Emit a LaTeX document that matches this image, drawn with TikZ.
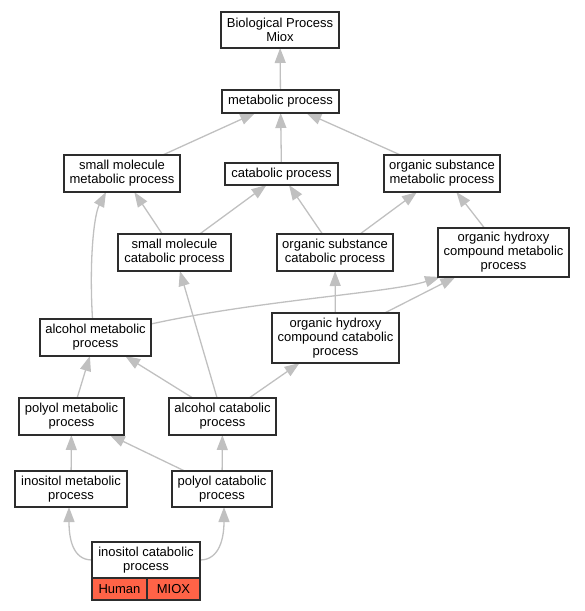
\documentclass[tikz,border=0pt]{standalone}
\usepackage{fontspec}
\setmainfont{Liberation Sans}
\usetikzlibrary{positioning,arrows.meta,backgrounds}
\definecolor{edgegray}{RGB}{192,192,192}
\definecolor{boxline}{RGB}{45,45,45}
\definecolor{genered}{RGB}{255,99,71}
\tikzset{
  term/.style={draw=boxline, line width=1.4pt, fill=white, align=center,
    inner sep=0pt, outer sep=0pt, font=\fontsize{13}{14}\selectfont},
  sz/.style 2 args={minimum width=#1pt, minimum height=#2pt},
  isa/.style={draw=edgegray, line width=1.3pt, -{Triangle[length=15pt,width=11pt]}},
}
\begin{document}
\begin{tikzpicture}[x=1pt, y=-1pt]
      \useasboundingbox (0,0) rectangle (585,611);

      % Define the nodes of the upper levels
      \node[term, sz={118}{36}] (bio) at (280,30) {Biological Process\\Miox};
      \node[term, sz={117}{23}] (met) at (280.5,101.5) {metabolic process};
      \node[term, sz={116}{37}] (smm) at (122,173.5) {small molecule\\metabolic process};
      \node[term, sz={113}{22}] (cat) at (281.5,174) {catabolic process};
      \node[term, sz={116}{37}] (osm) at (442,173.5) {organic substance\\metabolic process};

      % Define the nodes of the middle levels
      \node[term, sz={113}{37}] (smc) at (174.5,252.5) {small molecule\\catabolic process};
      \node[term, sz={116}{37}] (osc) at (335,252.5) {organic substance\\catabolic process};
      \node[term, sz={131}{49}] (ohcm) at (503.5,252.5) {organic hydroxy\\compound metabolic\\process};
      \node[term, sz={111}{37}] (alm) at (95.5,337.5) {alcohol metabolic\\process};
      \node[term, sz={127}{50}] (ohcc) at (335.5,338) {organic hydroxy\\compound catabolic\\process};

      % Define the nodes of the lower levels
      \node[term, sz={105}{37}] (pom) at (71.5,416.5) {polyol metabolic\\process};
      \node[term, sz={107}{37}] (alc) at (222.5,416.5) {alcohol catabolic\\process};
      \node[term, sz={112}{36}] (inm) at (71,489) {inositol metabolic\\process};
      \node[term, sz={100}{36}] (poc) at (222,489) {polyol catabolic\\process};

      % The annotated term with its gene cells
      \node[term, sz={108}{36}] (inc) at (146,560) {inositol catabolic\\process};
      \node[term, sz={55}{22}, fill=genered, anchor=north west] (human) at (inc.south west) {Human};
      \node[term, sz={53}{22}, fill=genered, anchor=north east] (miox) at (inc.south east) {MIOX};

      % Draw the is-a arrows, child to parent, behind the boxes
      \begin{pgfonlayer}{background}
      \draw[isa] (met) -- (bio);
      \draw[isa] (smm) -- (met);
      \draw[isa] (cat) -- (met);
      \draw[isa] (osm) -- (met);
      \draw[isa] (smc) -- (smm);
      \draw[isa] (smc) -- (cat);
      \draw[isa] (osc) -- (cat);
      \draw[isa] (osc) -- (osm);
      \draw[isa] (ohcm) -- (osm);
      \draw[isa] ([xshift=-3pt]alm.north) .. controls (89,260) and (94,215) .. ([xshift=-16pt]smm.south);
      \draw[isa] ([yshift=13.5pt]alm.east) .. controls (260,300) and (390,293) .. ([xshift=2pt]ohcm.south west);
      \draw[isa] (ohcc) -- (osc);
      \draw[isa] (ohcc) -- (ohcm);
      \draw[isa] (alc) -- (alm);
      \draw[isa] (alc) -- (smc);
      \draw[isa] (alc) -- (ohcc);
      \draw[isa] (pom) -- (alm);
      \draw[isa] (inm) -- (pom);
      \draw[isa] (poc) -- (pom);
      \draw[isa] (poc) -- (alc);
      \draw[isa] (inc.west) .. controls +(-20,0) and +(0,30) .. ([xshift=-2pt]inm.south);
      \draw[isa] (inc.east) .. controls +(20,0) and +(0,30) .. ([xshift=2pt]poc.south);
      \end{pgfonlayer}
\end{tikzpicture}
\end{document}
